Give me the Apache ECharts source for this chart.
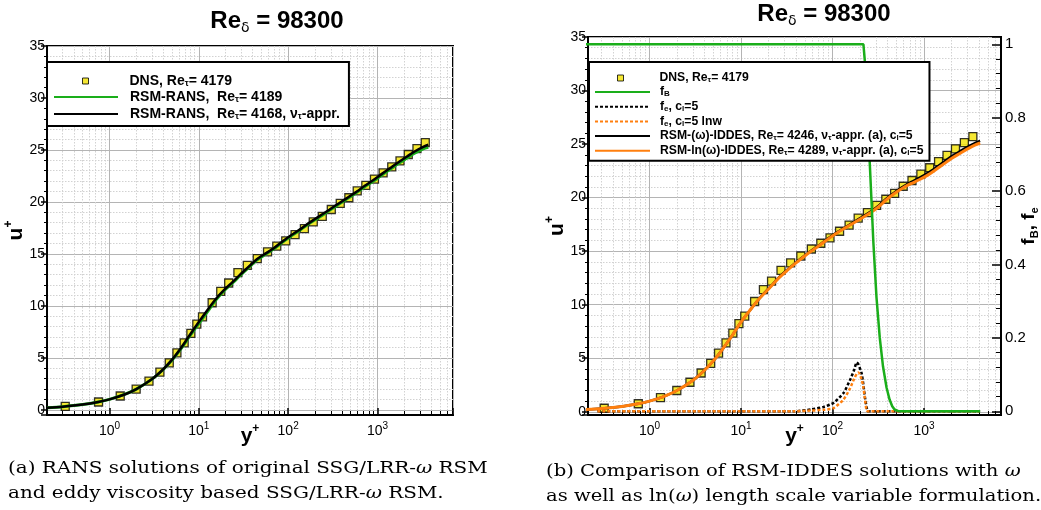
<!DOCTYPE html>
<html><head><meta charset="utf-8">
<script src="https://cdn.jsdelivr.net/npm/echarts@6/dist/echarts.min.js"></script>
<style>html,body{margin:0;padding:0;background:#fff}#c{width:1041px;height:510px}</style>
</head><body><div id="c"></div>
<script>
// ---------- DATA ----------
const dnsYPlus = [0.32, 0.755, 1.32, 1.99, 2.77, 3.67, 4.67, 5.69, 6.86, 8.15, 9.5, 11.0, 14.1, 17.6, 21.6, 27.4, 34.9, 45.1, 58.8, 74.6, 94, 119.6, 152, 191, 241, 304, 383, 478, 593, 740, 925, 1156, 1444, 1786, 2210, 2765, 3425];
const dnsUPlus = [0.33, 0.75, 1.33, 1.99, 2.76, 3.62, 4.52, 5.48, 6.44, 7.35, 8.24, 8.94, 10.3, 11.4, 12.2, 13.2, 13.9, 14.55, 15.2, 15.74, 16.25, 16.86, 17.44, 18.08, 18.6, 19.27, 19.85, 20.4, 21.06, 21.6, 22.2, 22.79, 23.37, 23.94, 24.56, 25.13, 25.7];

const ransYPlus = [0.2, 0.3, 0.5, 0.75, 1, 1.5, 2, 3, 4, 5, 6, 7, 8, 10, 13, 16, 19, 24, 29, 35, 45, 55, 69, 85, 106, 130, 163, 200, 249, 300, 383, 470, 588, 720, 900, 1100, 1381, 1700, 2122, 2600, 3250, 3700];
const ransBlackU = [0.2, 0.3, 0.5, 0.75, 1.0, 1.5, 1.99, 2.96, 3.9, 4.8, 5.68, 6.5, 7.25, 8.45, 9.8, 10.8, 11.5, 12.3, 13.0, 13.65, 14.5, 15.0, 15.55, 16.15, 16.75, 17.25, 17.85, 18.35, 18.88, 19.35, 19.95, 20.45, 21.0, 21.55, 22.1, 22.65, 23.25, 23.8, 24.35, 24.85, 25.3, 25.5];
const ransGreenU = [0.2, 0.3, 0.5, 0.75, 1.0, 1.5, 1.99, 2.95, 3.88, 4.76, 5.62, 6.42, 7.15, 8.3, 9.65, 10.7, 11.42, 12.22, 12.92, 13.58, 14.42, 14.93, 15.48, 16.08, 16.68, 17.18, 17.78, 18.28, 18.8, 19.27, 19.87, 20.37, 20.92, 21.46, 22.0, 22.55, 23.13, 23.67, 24.2, 24.68, 25.1, 25.25];

const iddesYPlus = [0.2, 0.3, 0.5, 0.75, 1, 1.4, 2, 3, 4, 5, 6, 7, 8, 9.5, 11, 13, 16, 21, 26, 32, 40, 49, 60, 74, 90, 112, 140, 170, 210, 257, 320, 388, 480, 588, 720, 888, 1100, 1343, 1650, 2036, 2500, 3074, 3600, 4110];
const iddesOrangeU = [0.2, 0.3, 0.5, 0.75, 1.0, 1.4, 1.99, 2.95, 3.88, 4.76, 5.6, 6.4, 7.1, 8.1, 8.85, 9.65, 10.6, 11.65, 12.5, 13.2, 13.9, 14.5, 15.05, 15.6, 16.15, 16.7, 17.2, 17.63, 18.1, 18.56, 19.15, 19.8, 20.4, 20.9, 21.3, 21.67, 22.1, 22.6, 23.15, 23.7, 24.15, 24.6, 24.9, 25.1];
const iddesBlackU = [0.2, 0.3, 0.5, 0.75, 1.0, 1.4, 1.99, 2.95, 3.88, 4.76, 5.6, 6.4, 7.1, 8.1, 8.85, 9.65, 10.6, 11.68, 12.55, 13.25, 13.95, 14.55, 15.1, 15.65, 16.2, 16.75, 17.25, 17.7, 18.18, 18.65, 19.25, 19.9, 20.5, 21.0, 21.45, 21.85, 22.3, 22.8, 23.35, 23.9, 24.35, 24.8, 25.1, 25.3];

const fbYPlus = [0.2, 1, 10, 100, 218, 225, 240, 256, 280, 303, 329, 357, 390, 421, 450, 477, 520, 600, 1000, 2000, 4110];
const fbValues = [1, 1, 1, 1, 1, 0.96, 0.84, 0.674, 0.46, 0.31, 0.2, 0.122, 0.065, 0.032, 0.014, 0.005, 0.001, 0, 0, 0, 0];

const feYPlus = [0.27, 10, 38, 58, 80, 103, 132, 156, 172, 184, 192, 208, 217, 226, 236, 245, 300, 1000, 4110];
const feBlackV = [0, 0, 0, 0.005, 0.012, 0.023, 0.05, 0.086, 0.112, 0.133, 0.128, 0.104, 0.075, 0.04, 0.012, 0, 0, 0, 0];
const feOrangeV = [0, 0, 0, 0.002, 0.004, 0.009, 0.032, 0.063, 0.088, 0.102, 0.106, 0.088, 0.068, 0.035, 0.003, 0, 0, 0, 0];

const titleText = '98300';
const legendLabels = {
  dnsA: '{t|DNS, Re}{s|τ}{t|= 4179}',
  ransGreen: '{t|RSM-RANS,  Re}{s|τ}{t|= 4189}',
  ransBlack: '{t|RSM-RANS,  Re}{s|τ}{t|= 4168, ν}{s|τ}{t|-appr.}',
  dnsB: '{t|DNS, Re}{s|τ}{t|= 4179}',
  fB: '{t|f}{s|B}',
  feBlack: '{t|f}{s|e}{t|, c}{s|l}{t|=5}',
  feOrange: '{t|f}{s|e}{t|, c}{s|l}{t|=5 lnw}',
  iddesBlack: '{t|RSM-(ω)-IDDES, Re}{s|τ}{t|= 4246, ν}{s|τ}{t|-appr. (a), c}{s|l}{t|=5}',
  iddesOrange: '{t|RSM-ln(ω)-IDDES, Re}{s|τ}{t|= 4289, ν}{s|τ}{t|-appr. (a), c}{s|l}{t|=5}'
};
const captionA = ['(a) RANS solutions of original SSG/LRR-', 'ω', ' RSM', 'and eddy viscosity based SSG/LRR-', 'ω', ' RSM.'];
const captionB = ['(b) Comparison of RSM-IDDES solutions with ', 'ω', '', 'as well as ln(', 'ω', ') length scale variable formulation.'];

// ---------- STYLE ----------
const SANS = 'Liberation Sans';
const SERIF = 'DejaVu Serif';
const YELLOW = '#f4e200';
const GREEN = '#1aae1a';
const ORANGE = '#ff7f0e';
const xy = (xs, ys) => xs.map((x, i) => [x, ys[i]]);

function legendRich(fs, lh) {
  return {
    t: {fontFamily: SANS, fontWeight: 'bold', fontSize: fs, lineHeight: lh, color: '#000'},
    s: {fontFamily: SANS, fontWeight: 'bold', fontSize: Math.round(fs * 0.62), lineHeight: 5, verticalAlign: 'bottom', color: '#000'}
  };
}
function capLines(parts) {
  return '{r|' + parts[0] + '}{i|' + parts[1] + '}' + (parts[2] ? '{r|' + parts[2] + '}' : '') +
    '\n{r|' + parts[3] + '}{i|' + parts[4] + '}{r|' + parts[5] + '}';
}
const capRich = {
  r: {fontFamily: SERIF, fontWeight: 'normal', fontSize: 17.5, lineHeight: 25, fill: '#000'},
  i: {fontFamily: SERIF, fontWeight: 'normal', fontSize: 17.5, fontStyle: 'italic', lineHeight: 25, fill: '#000'}
};
const titleRich = {
  b: {fontFamily: SANS, fontWeight: 'bold', fontSize: 24, lineHeight: 28, color: '#000'},
  s: {fontFamily: 'DejaVu Sans', fontWeight: 'normal', fontSize: 14, lineHeight: 4, verticalAlign: 'bottom', color: '#000'}
};
const lineLegendItemStyle = {opacity: 0};

function logX(g, min, max) {
  return {
    type: 'log', gridIndex: g, logBase: 10, min: min, max: max,
    axisLine: {show: true, onZero: false, lineStyle: {color: '#000', width: 2}},
    axisTick: {show: true, inside: true, length: 7, lineStyle: {color: '#000', width: 1.5}},
    minorTick: {show: true, splitNumber: 9, length: 4, lineStyle: {color: '#000', width: 1}},
    splitLine: {show: true, lineStyle: {color: '#b4b4b4', width: 1}},
    minorSplitLine: {show: true, lineStyle: {color: '#d2d2d2', width: 1, type: [1.5, 1.5]}},
    axisLabel: {
      showMinLabel: false, showMaxLabel: false, margin: 6,
      formatter: v => {
        const l = Math.log10(v), e = Math.round(l);
        if (Math.abs(l - e) > 1e-6) return '';
        return '{b|10}{p|' + e + '}';
      },
      rich: {
        b: {fontFamily: SANS, fontSize: 14, lineHeight: 20, color: '#000'},
        p: {fontFamily: SANS, fontSize: 10, lineHeight: 10, verticalAlign: 'top', color: '#000'}
      }
    },
    name: '{b|y}{p|+}', nameLocation: 'middle', nameGap: 8, nameMoveOverlap: false,
    nameTextStyle: {rich: {
      b: {fontFamily: SANS, fontWeight: 'bold', fontSize: 21, lineHeight: 26, color: '#000'},
      p: {fontFamily: SANS, fontWeight: 'bold', fontSize: 12, lineHeight: 12, verticalAlign: 'top', color: '#000'}
    }}
  };
}
function uY(g, min) {
  return {
    type: 'value', gridIndex: g, min: min, max: 35, splitNumber: 7, position: 'left',
    axisLine: {show: true, onZero: false, lineStyle: {color: '#000', width: 2}},
    axisTick: {show: true, inside: false, length: 6, lineStyle: {color: '#000', width: 1.5}},
    minorTick: {show: true, splitNumber: 5, length: 3, lineStyle: {color: '#000', width: 1}},
    splitLine: {show: true, lineStyle: {color: '#b4b4b4', width: 1}},
    minorSplitLine: {show: true, lineStyle: {color: '#d2d2d2', width: 1, type: [1.5, 1.5]}},
    axisLabel: {showMinLabel: false, fontFamily: SANS, fontSize: 14, color: '#000', margin: 2},
    name: '{b|u}{p|+}', nameLocation: 'middle', nameRotate: 90, nameGap: 18, nameMoveOverlap: false,
    nameTextStyle: {rich: {
      b: {fontFamily: SANS, fontWeight: 'bold', fontSize: 21, lineHeight: 26, color: '#000'},
      p: {fontFamily: SANS, fontWeight: 'bold', fontSize: 12, lineHeight: 12, verticalAlign: 'top', color: '#000'}
    }}
  };
}

const option = {
  animation: false,
  backgroundColor: '#fff',
  title: [
    {text: '{b|Re}{s|δ}{b| = ' + titleText + '}', left: 277, top: 7, padding: 0, textAlign: 'center', textStyle: {rich: titleRich}},
    {text: '{b|Re}{s|δ}{b| = ' + titleText + '}', left: 824, top: 0, padding: 0, textAlign: 'center', textStyle: {rich: titleRich}}
  ],
  graphic: [
    {type: 'text', x: 8, y: 456, scaleX: 1.14, silent: true, style: {text: capLines(captionA), rich: capRich, fill: '#000'}},
    {type: 'text', x: 546, y: 459, scaleX: 1.12, silent: true, style: {text: capLines(captionB), rich: capRich, fill: '#000'}}
  ],
  grid: [
    {left: 47, top: 46, width: 406, height: 369, show: true, borderColor: '#000', borderWidth: 2, backgroundColor: 'transparent', containLabel: false},
    {left: 588, top: 37, width: 418, height: 378, show: true, borderColor: '#000', borderWidth: 2, backgroundColor: 'transparent', containLabel: false}
  ],
  xAxis: [logX(0, 0.2, 7000), logX(1, 0.213, 6950)],
  yAxis: [
    uY(0, -0.5),
    uY(1, -0.3),
    {
      type: 'value', gridIndex: 1, min: -0.01, max: 1.02, splitNumber: 5, position: 'right',
      axisLine: {show: true, onZero: false, lineStyle: {color: '#000', width: 2}},
      axisTick: {show: true, inside: true, length: 9, lineStyle: {color: '#000', width: 1.5}},
      minorTick: {show: true, splitNumber: 5, length: 5, lineStyle: {color: '#000', width: 1}},
      splitLine: {show: false},
      axisLabel: {showMinLabel: false, showMaxLabel: false, fontFamily: SANS, fontSize: 15, color: '#000', margin: 4},
      name: '{b|f}{s|B}{b|, f}{s|e}', nameLocation: 'middle', nameRotate: 90, nameGap: 17, nameMoveOverlap: false,
      nameTextStyle: {rich: {
        b: {fontFamily: SANS, fontWeight: 'bold', fontSize: 19, lineHeight: 22, color: '#000'},
        s: {fontFamily: SANS, fontWeight: 'bold', fontSize: 11, lineHeight: 6, verticalAlign: 'bottom', color: '#000'}
      }}
    }
  ],
  legend: [
    {data: ['ransGreen', 'ransBlack'], orient: 'vertical', left: 47, top: 62, padding: [28, 9, 5, 6],
     itemWidth: 64, itemHeight: 14, itemGap: 3, borderColor: '#000', borderWidth: 2, backgroundColor: '#fff',
     itemStyle: lineLegendItemStyle,
     formatter: n => legendLabels[n], textStyle: {padding: [0, 0, 0, 7], rich: legendRich(14, 14)}, z: 10, selectedMode: false},
    {data: [{name: 'dnsA', icon: 'rect', itemStyle: {color: YELLOW, borderColor: '#000', borderWidth: 1}}], orient: 'vertical', left: 82, top: 74, padding: 0,
     itemWidth: 6, itemHeight: 6, formatter: n => legendLabels[n], textStyle: {padding: [0, 0, 0, 36], rich: legendRich(14, 14)}, z: 11, selectedMode: false},
    {data: ['fB', 'feBlack', 'feOrange', 'iddesBlack', 'iddesOrange'], orient: 'vertical', left: 589, top: 62, padding: [24, 6, 4, 5],
     itemWidth: 55, itemHeight: 12, itemGap: 2.7, borderColor: '#000', borderWidth: 2, backgroundColor: '#fff',
     itemStyle: lineLegendItemStyle,
     formatter: n => legendLabels[n], textStyle: {padding: [0, 0, 0, 5], rich: legendRich(12.2, 12)}, z: 10, selectedMode: false},
    {data: [{name: 'dnsB', icon: 'rect', itemStyle: {color: YELLOW, borderColor: '#000', borderWidth: 1}}], orient: 'vertical', left: 617, top: 72, padding: 0,
     itemWidth: 6, itemHeight: 6, formatter: n => legendLabels[n], textStyle: {padding: [0, 0, 0, 31], rich: legendRich(12.2, 12)}, z: 11, selectedMode: false}
  ],
  series: [
    {name: 'dnsA', type: 'scatter', xAxisIndex: 0, yAxisIndex: 0, symbol: 'rect', symbolSize: 8,
     itemStyle: {color: YELLOW, borderColor: '#000', borderWidth: 1.3}, data: xy(dnsYPlus, dnsUPlus), z: 2},
    {name: 'ransGreen', type: 'line', xAxisIndex: 0, yAxisIndex: 0, showSymbol: false, symbol: 'none', smooth: 0.3,
     lineStyle: {color: GREEN, width: 3}, itemStyle: {color: GREEN}, data: xy(ransYPlus, ransGreenU), z: 3},
    {name: 'ransBlack', type: 'line', xAxisIndex: 0, yAxisIndex: 0, showSymbol: false, symbol: 'none', smooth: 0.3,
     lineStyle: {color: '#000', width: 2.5}, itemStyle: {color: '#000'}, data: xy(ransYPlus, ransBlackU), z: 4},

    {name: 'dnsB', type: 'scatter', xAxisIndex: 1, yAxisIndex: 1, symbol: 'rect', symbolSize: 8,
     itemStyle: {color: YELLOW, borderColor: '#000', borderWidth: 1.3}, data: xy(dnsYPlus, dnsUPlus), z: 2},
    {name: 'iddesBlack', type: 'line', xAxisIndex: 1, yAxisIndex: 1, showSymbol: false, symbol: 'none', smooth: 0.3,
     lineStyle: {color: '#000', width: 2.5}, itemStyle: {color: '#000'}, data: xy(iddesYPlus, iddesBlackU), z: 3},
    {name: 'iddesOrange', type: 'line', xAxisIndex: 1, yAxisIndex: 1, showSymbol: false, symbol: 'none', smooth: 0.3,
     lineStyle: {color: ORANGE, width: 3}, itemStyle: {color: ORANGE}, data: xy(iddesYPlus, iddesOrangeU), z: 4},
    {name: 'feBlack', type: 'line', xAxisIndex: 1, yAxisIndex: 2, showSymbol: false, symbol: 'none', smooth: 0.2,
     lineStyle: {color: '#000', width: 2.5, type: [3, 2]}, itemStyle: {color: '#000'}, data: xy(feYPlus, feBlackV), z: 5},
    {name: 'feOrange', type: 'line', xAxisIndex: 1, yAxisIndex: 2, showSymbol: false, symbol: 'none', smooth: 0.2,
     lineStyle: {color: ORANGE, width: 2.5, type: [3, 2]}, itemStyle: {color: ORANGE}, data: xy(feYPlus, feOrangeV), z: 6},
    {name: 'fB', type: 'line', xAxisIndex: 1, yAxisIndex: 2, showSymbol: false, symbol: 'none',
     lineStyle: {color: GREEN, width: 2.5}, itemStyle: {color: GREEN}, data: xy(fbYPlus, fbValues), z: 7}
  ]
};
const chart = echarts.init(document.getElementById('c'), null, {renderer: 'canvas'});
chart.setOption(option);
</script>
</body></html>
